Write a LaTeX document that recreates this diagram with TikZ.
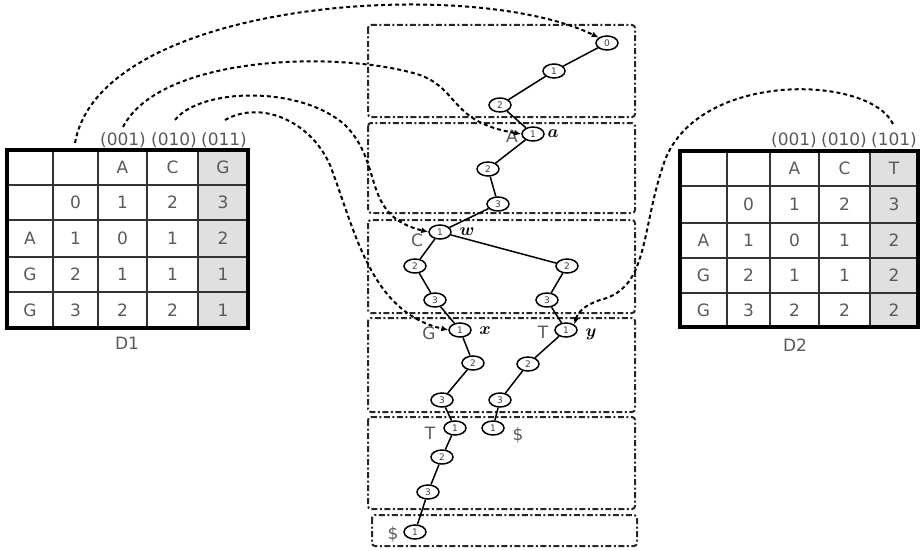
\documentclass[tikz,border=0pt]{standalone}
\usepackage{fontspec}
\setmainfont{DejaVu Sans}
\usepackage{bm}
\usetikzlibrary{arrows.meta,shapes.geometric}

\begin{document}
\begin{tikzpicture}[x=1pt,y=-1pt,
  tnode/.style={draw, ellipse, minimum width=22pt, minimum height=14pt, inner sep=0pt, line width=1.5pt, fill=white, font=\fontsize{9}{9}\selectfont, text=black!75},
  treeline/.style={line width=1.5pt},
  page/.style={draw=black!85, line width=2pt, dash pattern=on 6pt off 2.5pt on 2pt off 2.5pt, rounded corners=3pt},
  link/.style={line width=2pt, dash pattern=on 4pt off 3pt, -{Latex[length=7pt,width=6pt]}},
  base/.style={font=\fontsize{17}{17}\selectfont, text=black!65, inner sep=0pt},
  cell/.style={font=\fontsize{17}{17}\selectfont, text=black!65, inner sep=0pt},
  var/.style={font=\fontsize{18}{18}\selectfont, inner sep=0pt},
  gridline/.style={line width=1.5pt, draw=black!80},
  frame/.style={line width=3.4pt}]

\useasboundingbox (0,0) rectangle (921,551);

% ---------------- table D1 ----------------
\fill[black!12] (198,150) rectangle (248,328);
\foreach \x in {53,98,147,198} \draw[gridline] (\x,150) -- (\x,328);
\foreach \y in {185,220,257,292} \draw[gridline] (7,\y) -- (248,\y);
\draw[frame] (7,150) rectangle (248,328);
\foreach \row [count=\r] in {{{},{},A,C,G},{{},0,1,2,3},{A,1,0,1,2},{G,2,1,1,1},{G,3,2,2,1}} {
  \foreach \t [count=\c] in \row {
    \pgfmathsetmacro\cx{{30,75.5,122.5,172.5,223}[\c-1]}
    \pgfmathsetmacro\cy{{167.5,202.5,238.5,274.5,310}[\r-1]}
    \node[cell] (d1-\r-\c) at (\cx,\cy) {\t};
  }
}
\node[base] (d1h1) at (123,140) {(001)};
\node[base] (d1h2) at (174,140) {(010)};
\node[base] (d1h3) at (224,140) {(011)};
\node[base] (d1cap) at (127,343) {D1};

% ---------------- table D2 ----------------
\fill[black!12] (870,151) rectangle (918,327);
\foreach \x in {727,770,819,870} \draw[gridline] (\x,151) -- (\x,327);
\foreach \y in {186,223,258,293} \draw[gridline] (680,\y) -- (918,\y);
\draw[frame] (680,151) rectangle (918,327);
\foreach \row [count=\r] in {{{},{},A,C,T},{{},0,1,2,3},{A,1,0,1,2},{G,2,1,1,2},{G,3,2,2,2}} {
  \foreach \t [count=\c] in \row {
    \pgfmathsetmacro\cx{{703.5,748.5,794.5,844.5,894}[\c-1]}
    \pgfmathsetmacro\cy{{168.5,204.5,240.5,275.5,310}[\r-1]}
    \node[cell] (d2-\r-\c) at (\cx,\cy) {\t};
  }
}
\node[base] (d2h1) at (794,140) {(001)};
\node[base] (d2h2) at (844,140) {(010)};
\node[base] (d2h3) at (894,140) {(101)};
\node[base] (d2cap) at (795,345) {D2};

% ---------------- stacked pages ----------------
\draw[page] (368,25) rectangle (635,117);
\draw[page] (368,123) rectangle (635,213);
\draw[page] (368,220) rectangle (635,313);
\draw[page] (368,318) rectangle (635,412);
\draw[page] (368,417) rectangle (635,509);
\draw[page] (372,515) rectangle (637,546);

% ---------------- trie ----------------
\node[tnode] (n1)  at (607,43)  {0};
\node[tnode] (n2)  at (554,71)  {1};
\node[tnode] (n3)  at (500,105) {2};
\node[tnode] (n4)  at (533,134) {1};
\node[tnode] (n5)  at (488,169) {2};
\node[tnode] (n6)  at (498,204) {3};
\node[tnode] (n7)  at (440,232) {1};
\node[tnode] (n8)  at (415,266) {2};
\node[tnode] (n9)  at (435,300) {3};
\node[tnode] (n10) at (567,266) {2};
\node[tnode] (n11) at (547,300) {3};
\node[tnode] (n12) at (460,330) {1};
\node[tnode] (n13) at (566,330) {1};
\node[tnode] (n14) at (473,363) {2};
\node[tnode] (n15) at (528,364) {2};
\node[tnode] (n16) at (442,400) {3};
\node[tnode] (n17) at (500,400) {3};
\node[tnode] (n18) at (455,428) {1};
\node[tnode] (n19) at (493,428) {1};
\node[tnode] (n20) at (442,457) {2};
\node[tnode] (n21) at (428,492) {3};
\node[tnode] (n22) at (415,532) {1};

\foreach \a/\b in {n1/n2,n2/n3,n3/n4,n4/n5,n5/n6,n6/n7,n7/n8,n8/n9,n9/n12,
                   n7/n10,n10/n11,n11/n13,n12/n14,n14/n16,n16/n18,n18/n20,
                   n20/n21,n21/n22,n13/n15,n15/n17,n17/n19}
  \draw[treeline] (\a) -- (\b);

% edge letters and node names
\node[base] (lA)  at (512,136) {A};
\node[base] (lC)  at (417,240) {C};
\node[base] (lG)  at (429,333) {G};
\node[base] (lT1) at (543,332) {T};
\node[base] (lT2) at (430,433) {T};
\node[base] (lD1) at (518,435) {\$};
\node[base] (lD2) at (393,534) {\$};
\node[var] (va) at (553,134) {$\bm{a}$};
\node[var] (vw) at (467,232) {$\bm{w}$};
\node[var] (vx) at (485,331) {$\bm{x}$};
\node[var] (vy) at (591,334) {$\bm{y}$};

% ---------------- column links ----------------
\coordinate (s1) at (75,143);
\coordinate (s2) at (123,127);
\coordinate (s3) at (175,120);
\coordinate (s4) at (225,120);
\coordinate (s5) at (893,124);

\draw[link] (s1) .. controls (100,0) and (470,-25) .. (n1.north west);
\draw[link] (s2) .. controls (160,55) and (340,50) .. (420,75)
                 .. controls (460,90) and (450,122) .. (n4.west);
\draw[link] (s3) .. controls (200,88) and (300,85) .. (345,125)
                 .. controls (385,165) and (360,215) .. (n7.west);
\draw[link] (s4) .. controls (260,100) and (310,120) .. (330,165)
                 .. controls (355,230) and (370,312) .. (n12.west);
\draw[link] (s5) .. controls (870,75) and (700,70) .. (665,160)
                 .. controls (640,230) and (650,288) .. (600,300)
                 .. controls (585,305) and (578,312) .. (n13.north east);
\end{tikzpicture}
\end{document}
